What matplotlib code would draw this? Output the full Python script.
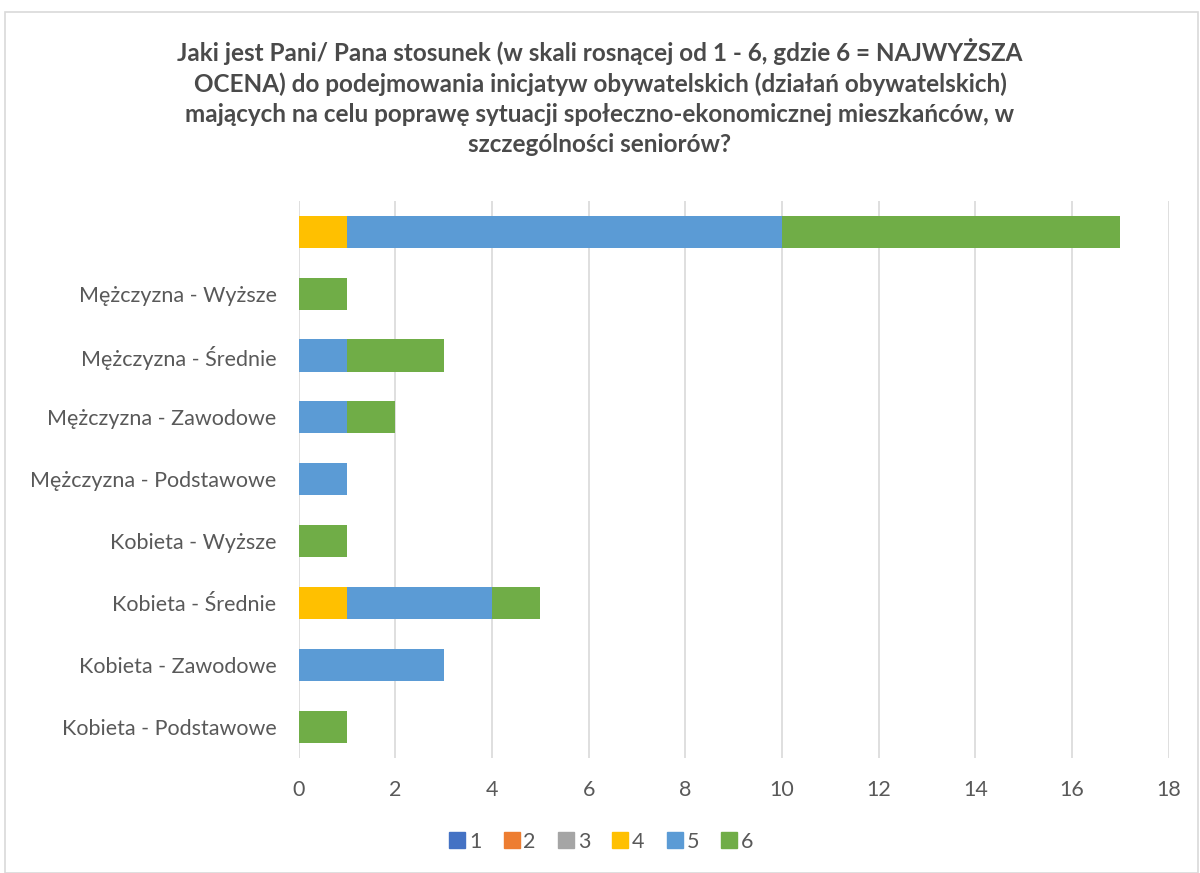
import numpy as np
import matplotlib.pyplot as plt
from matplotlib.patches import Rectangle
from matplotlib.lines import Line2D

plt.rcParams['font.family'] = ['Lato', 'DejaVu Sans']

#===================================================================================
#                           data
#===================================================================================
categories = ['Kobieta - Podstawowe', 'Kobieta - Zawodowe', 'Kobieta - Średnie',
              'Kobieta - Wyższe', 'Mężczyzna - Podstawowe', 'Mężczyzna - Zawodowe',
              'Mężczyzna - Średnie', 'Mężczyzna - Wyższe', '']
s1 = [0, 0, 0, 0, 0, 0, 0, 0, 0]
s2 = [0, 0, 0, 0, 0, 0, 0, 0, 0]
s3 = [0, 0, 0, 0, 0, 0, 0, 0, 0]
s4 = [0, 0, 1, 0, 0, 0, 0, 0, 1]
s5 = [0, 3, 3, 0, 1, 1, 1, 0, 9]
s6 = [1, 0, 1, 1, 0, 1, 2, 1, 7]
series_names = ['1', '2', '3', '4', '5', '6']
colors = ['#4472c4', '#ed7d31', '#a5a5a5', '#ffc000', '#5b9bd5', '#70ad47']

title = ('Jaki jest Pani/ Pana stosunek (w skali rosnącej od 1 - 6, gdzie 6 = NAJWYŻSZA\n'
         'OCENA) do podejmowania inicjatyw obywatelskich (działań obywatelskich)\n'
         'mających na celu poprawę sytuacji społeczno-ekonomicznej mieszkańców, w\n'
         'szczególności seniorów?')

#===================================================================================
#                              plots
#===================================================================================
fig = plt.figure(figsize=(12, 8.73), dpi=100)
ax = fig.add_axes([0.249, 0.132, 0.725, 0.638])

y = np.arange(len(categories))
left = np.zeros(len(categories))
for name, vals, col in zip(series_names, [s1, s2, s3, s4, s5, s6], colors):
    vals = np.array(vals, dtype=float)
    ax.barh(y, vals, left=left, height=0.52, color=col, zorder=3)
    left += vals

ax.set_xlim(0, 18)
ax.set_ylim(-0.5, len(categories) - 0.5)
ax.set_xticks(np.arange(0, 19, 2))
ax.set_yticks(y)
ax.set_yticklabels(categories)
ax.tick_params(length=0, labelsize=15.5, labelcolor='#595959')
ax.tick_params(axis='x', pad=16)
ax.tick_params(axis='y', pad=16)
ax.grid(axis='x', color='#d9d9d9', lw=1.2, zorder=0)
for sp in ax.spines.values():
    sp.set_visible(False)

fig.text(0.5, 0.957, title, ha='center', va='top', fontsize=17.5, fontweight='bold',
         color='#4a4a4a', linespacing=1.38)

handles = [Line2D([], [], marker='s', ls='none', ms=12, color=c) for c in colors]
fig.legend(handles, series_names, loc='center', bbox_to_anchor=(0.5, 0.036), ncol=6,
           frameon=False, fontsize=15.5, handletextpad=0.05, columnspacing=0.9,
           labelcolor='#595959', handlelength=1.0)

fig.patches.append(Rectangle((0.004, 0.0), 0.994, 0.986, transform=fig.transFigure,
                             fill=False, ec='#d9d9d9', lw=1.2))

fig.savefig('out.png', dpi=100)
